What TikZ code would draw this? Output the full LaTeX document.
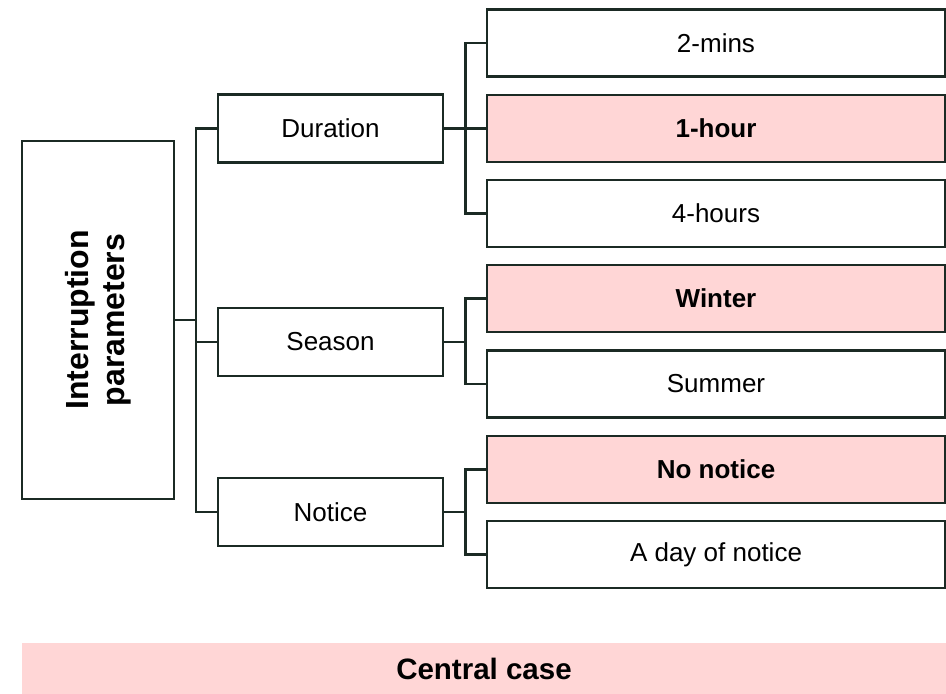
\documentclass[tikz,border=0pt]{standalone}
\usepackage{fontspec}
\setmainfont{Liberation Sans}
\usetikzlibrary{calc}
\definecolor{edge}{RGB}{27,42,36}
\definecolor{hl}{RGB}{255,214,214}
\begin{document}
\begin{tikzpicture}[x=1pt,y=-1pt,
  box/.style={draw=edge,line width=2.5pt,rectangle,inner sep=0pt,align=center,
    font=\fontsize{26}{31}\selectfont},
  midbox/.style={box,minimum width=225pt,minimum height=68pt},
  leafbox/.style={box,minimum width=458pt,minimum height=67pt},
  hlbox/.style={leafbox,fill=hl,font=\fontsize{26}{31}\selectfont\bfseries},
  link/.style={draw=edge,line width=2.5pt,line join=miter}]
\useasboundingbox (0,0) rectangle (946,694);
\fill[white] (0,0) rectangle (946,694);

\node[box,minimum width=152pt,minimum height=358pt] (root) at (98,320) {};
\node[rotate=90,align=center,font=\fontsize{32}{36}\selectfont\bfseries] (rootlabel) at (root.center) {Interruption\\parameters};

\node[midbox] (dur) at (330.5,128.5) {Duration};
\node[midbox] (sea) at (330.5,342) {Season};
\node[midbox] (not) at (330.5,512) {Notice};

\node[leafbox] (m2) at (716,43) {2-mins};
\node[hlbox] (h1) at (716,128.5) {1-hour};
\node[leafbox] (h4) at (716,213.5) {4-hours};
\node[hlbox] (win) at (716,298.5) {Winter};
\node[leafbox] (sum) at (716,384) {Summer};
\node[hlbox] (non) at (716,469.5) {No notice};
\node[leafbox] (day) at (716,554.5) {A day of notice};

\node[fill=hl,minimum width=924pt,minimum height=51pt,inner sep=0pt,
  font=\fontsize{29.5}{34}\selectfont\bfseries] (cc) at (484,668.5) {Central case};

\coordinate (b1) at (196,320);
\draw[link] (root.east) -- (b1);
\draw[link] (b1) |- (dur.west);
\draw[link] (b1) |- (sea.west);
\draw[link] (b1) |- (not.west);

\coordinate (b2) at ($(dur.east)+(21,0)$);
\draw[link] (dur.east) -- (b2);
\draw[link] (b2) |- (m2.west);
\draw[link] (b2) -- (h1.west);
\draw[link] (b2) |- (h4.west);

\coordinate (b3) at ($(sea.east)+(21,0)$);
\draw[link] (sea.east) -- (b3);
\draw[link] (b3) |- (win.west);
\draw[link] (b3) |- (sum.west);

\coordinate (b4) at ($(not.east)+(21,0)$);
\draw[link] (not.east) -- (b4);
\draw[link] (b4) |- (non.west);
\draw[link] (b4) |- (day.west);
\end{tikzpicture}
\end{document}
